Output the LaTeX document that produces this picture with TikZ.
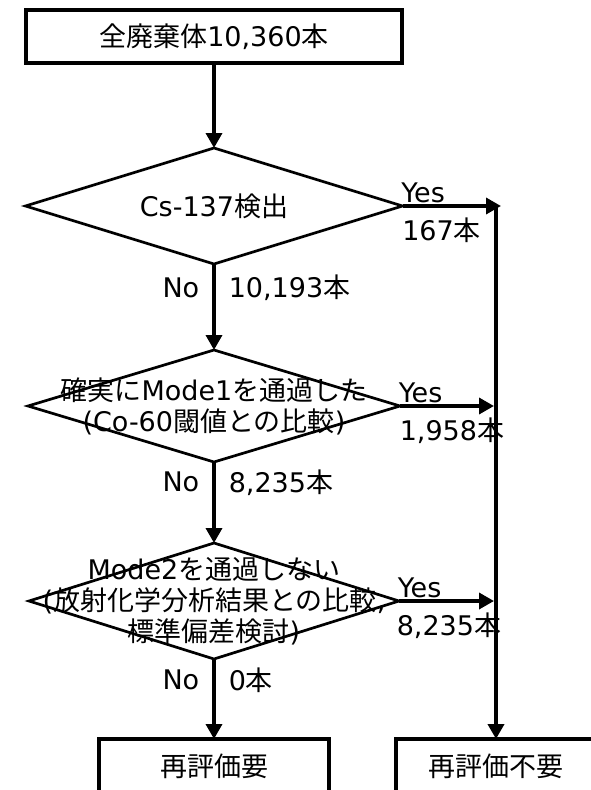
\documentclass[tikz,border=0pt]{standalone}
\usepackage{fontspec}
\setmainfont{DejaVu Sans}
\newfontfamily\jpfont{Noto Sans CJK JP}
\newcommand{\jp}[1]{{\jpfont #1}}
\usetikzlibrary{arrows.meta,positioning,shapes.geometric,calc}

\begin{document}
\begin{tikzpicture}[
  x=1pt, y=-1pt,
  every node/.style={font=\fontsize{27}{31}\selectfont},
  box/.style={draw, line width=4.5pt, minimum height=54pt, inner sep=0pt, outer sep=0pt},
  test/.style={draw, diamond, line width=2.7pt, inner sep=0pt, outer sep=0pt},
  txt/.style={align=center, inner sep=0pt},
  lbl/.style={inner sep=2pt},
  arr/.style={-{Triangle[length=15pt,width=16pt]}, line width=3.5pt}
]
  \useasboundingbox (0,0) rectangle (590,790);

  % start and the three tests
  \node[box, minimum width=376pt, minimum height=53pt] (all) at (214,36.5) {\jp{全廃棄体}10,360\jp{本}};
  \node[test, minimum width=377pt, minimum height=116pt] (cs) at (214,206) {};
  \node[test, minimum width=372pt, minimum height=112pt] (mone) at (214,406) {};
  \node[test, minimum width=370pt, minimum height=116pt] (mtwo) at (214,601) {};

  \node[txt] (cst)   at (cs)   {Cs-137\jp{検出}};
  \node[txt] (monet) at (mone) {\jp{確実に}Mode1\jp{を通過した}\\(Co-60\jp{閾値との比較})};
  \node[txt] (mtwot) at (mtwo) {Mode2\jp{を通過しない}\\(\jp{放射化学分析結果との比較},\\\jp{標準偏差検討})};

  % results
  \node[box, minimum width=230pt] (redo)  at (214,766) {\jp{再評価要}};
  \node[box, minimum width=200pt] (nored) at (496,766) {\jp{再評価不要}};

  \coordinate (jtop) at (496,206);

  \draw[arr] (all.south) -- (cs.north);
  \draw[arr] (cs.south) -- node[lbl, pos=0.28, left=11pt]{No}
                           node[lbl, pos=0.28, right=11pt]{10,193\jp{本}} (mone.north);
  \draw[arr] (mone.south) -- node[lbl, pos=0.25, left=11pt]{No}
                             node[lbl, pos=0.25, right=11pt]{8,235\jp{本}} (mtwo.north);
  \draw[arr] (mtwo.south) -- node[lbl, pos=0.26, left=11pt]{No}
                             node[lbl, pos=0.26, right=11pt]{0\jp{本}} (redo.north);

  \draw[arr] (cs.east) -- node[lbl, pos=0, above right, xshift=-5pt, yshift=-1pt]{Yes}
                          node[lbl, pos=0, below right, xshift=-4pt, yshift=-8pt]{167\jp{本}} ($(jtop)+(5,0)$);
  \draw[arr] (mone.east) -- node[lbl, pos=0, above right, xshift=-5pt, yshift=-1pt]{Yes}
                            node[lbl, pos=0, below right, xshift=-4pt, yshift=-8pt]{1,958\jp{本}} ($(mone.east -| jtop)+(-2,0)$);
  \draw[arr] (mtwo.east) -- node[lbl, pos=0, above right, xshift=-5pt, yshift=-1pt]{Yes}
                            node[lbl, pos=0, below right, xshift=-6pt, yshift=-8pt]{8,235\jp{本}} ($(mtwo.east -| jtop)+(-2,0)$);
  \draw[arr, line width=4pt] (jtop) -- (jtop |- nored.north);
\end{tikzpicture}
\end{document}
